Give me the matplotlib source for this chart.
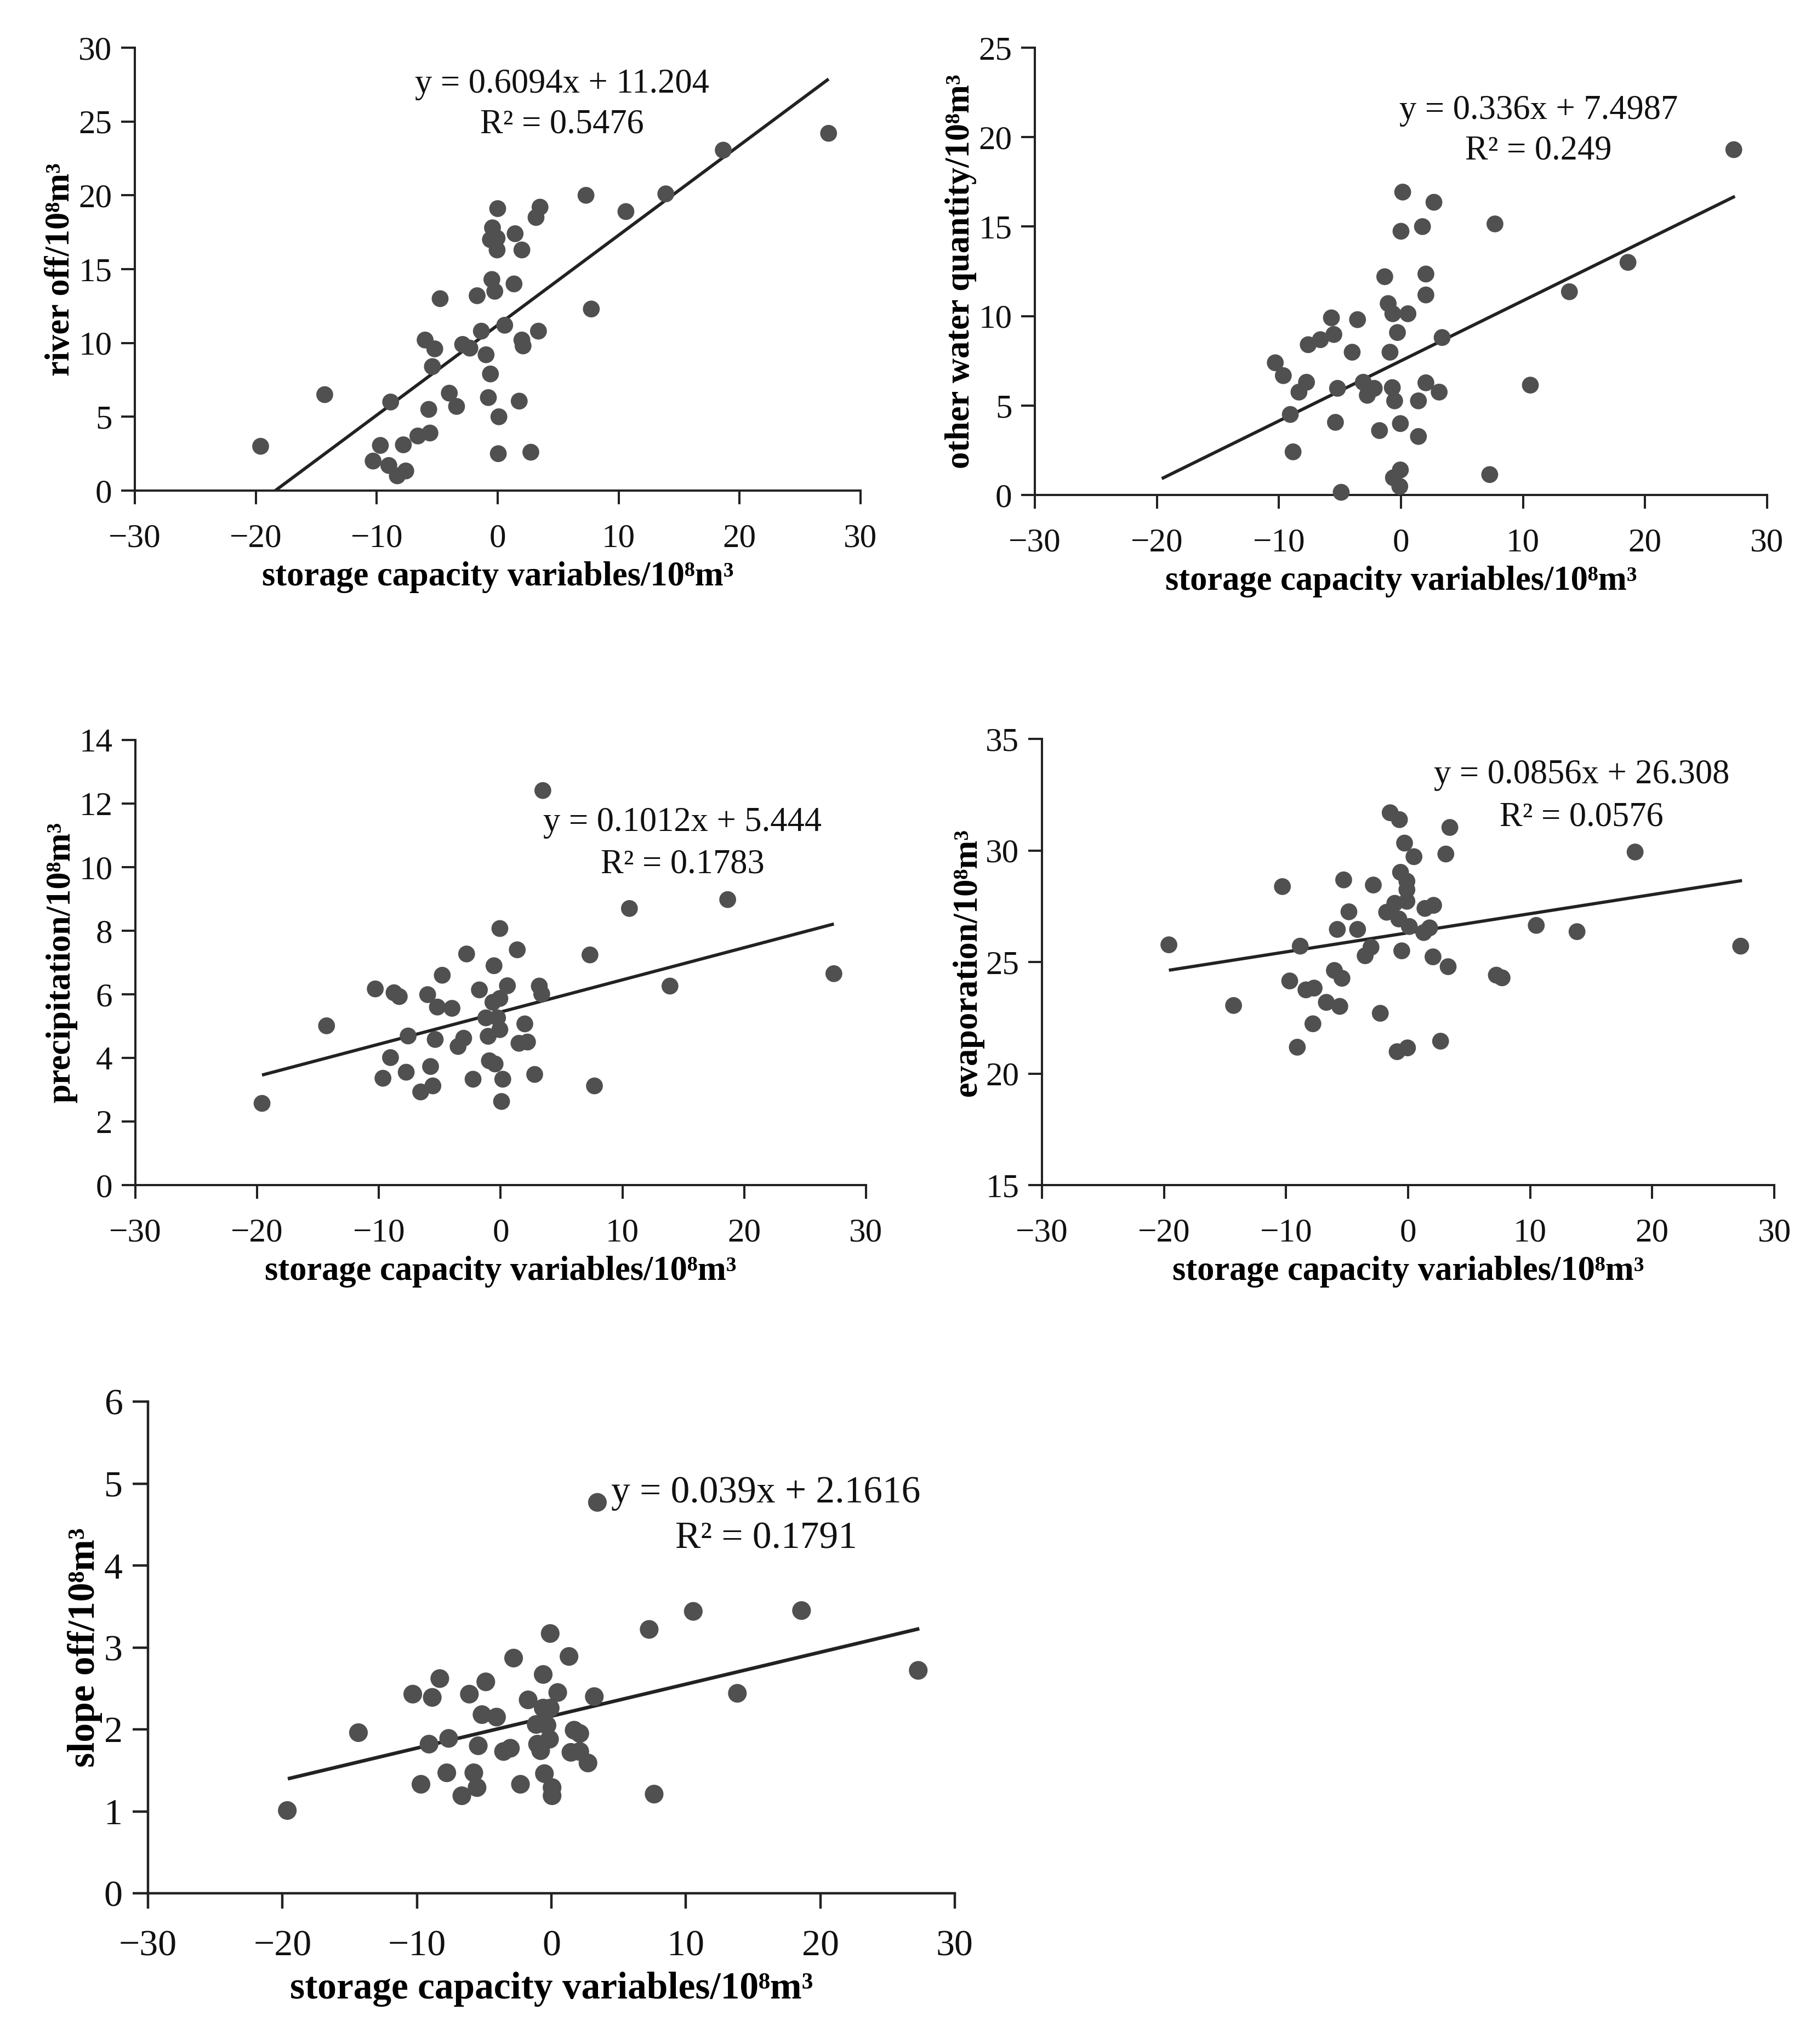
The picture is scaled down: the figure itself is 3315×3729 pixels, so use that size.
import numpy as np
import matplotlib
matplotlib.use("Agg")
import matplotlib.pyplot as plt

plt.rcParams['font.family'] = ['Liberation Serif', 'DejaVu Serif']

W, H = 3316, 3729
DOT = '#505050'
INK = '#222222'

X_LABEL = "storage capacity variables/10\u2078m\u00b3"
x_ticks = [-30, -20, -10, 0, 10, 20, 30]

# --- river off ---
river_x = [-19.6, -14.3, -10.3, -9.7, -8.85, -9.0, -8.3, -7.6, -7.8, -6.6, -5.6, -5.7,
           -6.0, -5.2, -5.4, -4.76, -4.0, -3.4, -2.9, -2.3, -1.7, -1.35, -0.96, -0.6,
           -0.77, -0.48, -0.24, -0.43, -0.6, -0.05, -0.05, 0.0, 0.1, 0.05, 0.58, 1.44,
           1.35, 1.78, 2.0, 2.0, 2.1, 2.74, 3.17, 3.5, 3.37, 7.3, 7.74, 10.6, 13.9,
           18.65, 27.36]
river_y = [3.0, 6.5, 2.0, 3.06, 6.0, 1.7, 1.0, 1.33, 3.1, 3.7, 3.9, 5.5,
           10.2, 9.6, 8.4, 13.0, 6.6, 5.7, 9.9, 9.65, 13.2, 10.8, 9.2, 7.9,
           6.3, 14.3, 13.5, 17.8, 17.0, 17.1, 16.3, 19.1, 5.0, 2.5, 11.2, 17.4,
           14.0, 6.06, 16.3, 10.2, 9.8, 2.6, 18.5, 19.2, 10.8, 20.0, 12.3, 18.9, 20.1,
           23.06, 24.2]
river_yticks = [0, 5, 10, 15, 20, 25, 30]

# --- other water quantity ---
other_x = [27.27, 18.6, 13.8, 10.6, 7.7, 7.27, 0.14, 2.7, 1.76, 0.0, 2.04, 2.04, -1.33,
           -1.05, -0.67, 0.57, -0.29, 3.37, -0.9, -3.56, -5.7, -5.5, -6.6, -7.6, -4.0,
           -10.3, -9.64, -7.74, -8.36, -5.2, -9.07, -5.37, -8.84, -4.9, -3.09, -2.66,
           -2.19, -2.76, -0.71, -0.52, -1.76, -0.05, 1.43, 2.04, 3.13, 1.43, -0.05,
           -0.62, -0.1]
other_y = [19.3, 13.0, 11.36, 6.14, 15.15, 1.14, 16.93, 16.36, 15.0, 14.74, 12.35, 11.18,
           12.2, 10.7, 10.13, 10.13, 9.08, 8.8, 7.98, 9.8, 9.9, 8.97, 8.68, 8.4, 7.98,
           7.39, 6.67, 6.3, 5.75, 5.96, 4.5, 4.06, 2.41, 0.15, 6.3, 5.9,
           5.96, 5.57, 6.0, 5.26, 3.6, 3.99, 5.26, 6.27, 5.75, 3.27, 1.4,
           0.96, 0.48]
other_yticks = [0, 5, 10, 15, 20, 25]

# --- precipitation ---
precip_x = [-19.6, -14.3, -10.3, -8.76, -8.33, -9.05, -9.67, -7.6, -7.76, -6.57, -5.57,
            -5.76, -6.0, -5.2, -5.38, -4.8, -4.0, -2.8, -3.04, -3.5, -2.27, -1.75, -1.22,
            -1.03, -0.93, -0.46, -0.55, -0.64, -0.07, -0.07, -0.26, -0.07, 0.17, 0.07,
            0.55, 1.36, 1.98, 1.5, 2.2, 2.79, 3.17, 3.37, 3.46, 7.33, 7.7, 10.57, 13.9,
            18.64, 27.36]
precip_y = [2.57, 5.01, 6.17, 6.05, 5.93, 4.01, 3.36, 4.69, 3.55, 2.93, 3.12,
            3.73, 5.99, 5.6, 4.58, 6.6, 5.56, 7.27, 4.62, 4.36, 3.33, 6.14, 5.26,
            4.68, 3.91, 3.81, 6.9, 5.75, 5.87, 8.07, 5.26, 4.89, 3.33, 2.63,
            6.27, 7.40, 5.07, 4.46, 4.5, 3.48, 6.26, 6.01, 12.41, 7.24, 3.12, 8.70, 6.26,
            8.98, 6.65]
precip_yticks = [0, 2, 4, 6, 8, 10, 12, 14]

# --- evaporation ---
evap_x = [-19.6, -14.3, -10.3, -9.7, -8.84, -9.08, -8.37, -7.7, -7.8, -6.7, -6.04, -5.6,
          -5.42, -5.8, -5.28, -4.85, -4.14, -3.52, -3.04, -2.85, -2.28, -1.76, -1.47,
          -0.71, -1.09, -0.76, -0.52, -0.62, -0.29, -0.1, -0.1, -0.1, 0.1, 0.48, -0.9,
          -0.05, 1.28, 1.38, 1.76, 2.09, 2.04, 2.66, 3.09, 3.42, 3.28, 7.23, 7.7, 10.5,
          13.84, 18.6, 27.25]
evap_y = [25.77, 23.05, 28.38, 24.15, 25.71, 21.18, 23.75, 23.83, 22.23, 23.19, 24.62, 23.01,
          24.27, 26.46, 28.68, 27.25, 26.46, 25.28, 25.66, 28.45, 22.7, 27.23, 31.69,
          31.38, 27.63, 26.93, 25.5, 29.02, 30.33, 28.62, 28.24, 27.72, 26.59, 29.72, 20.98,
          21.15, 26.32, 27.4, 26.53, 27.54, 25.23, 21.45, 29.84, 31.03, 24.79, 24.41, 24.29,
          26.64, 26.36, 29.93, 25.71]
evap_yticks = [15, 20, 25, 30, 35]

# --- slope off ---
slope_x = [-19.64, -14.35, -10.31, -8.86, -8.3, -9.1, -9.7, -7.64, -7.78, -6.66, -5.53,
           -5.77, -5.44, -6.1, -5.16, -4.88, -4.08, -3.56, -3.05, -2.81, -2.3, -1.73,
           -1.13, -1.03, -0.8, -0.61, -0.61, -0.52, -0.33, -0.09, -0.09, -0.14, 0.05,
           0.05, 0.47, 1.31, 1.69, 1.45, 2.11, 2.11, 2.72, 3.19, 3.42, 7.27, 7.64, 10.55,
           13.83, 18.6, 27.28]
slope_y = [1.01, 1.96, 2.43, 2.39, 2.62, 1.82, 1.33, 1.89, 1.47, 1.19, 1.29,
           1.47, 1.80, 2.43, 2.18, 2.58, 2.15, 1.73, 1.77, 2.87, 1.33, 2.36,
           2.06, 1.82, 1.74, 2.67, 2.26, 1.46, 2.05, 2.26, 3.17, 1.88, 1.29,
           1.19, 2.45, 2.89, 1.99, 1.72, 1.95, 1.73, 1.59, 2.40, 4.77, 3.22, 1.21, 3.44,
           2.44, 3.45, 2.72]
slope_yticks = [0, 1, 2, 3, 4, 5, 6]

# the trend lines all span the full storage-capacity range
# (some points of the other panels fall below their y axis and are hidden)
trend_span = np.array([min(river_x), max(river_x)])

fig = plt.figure(figsize=(W / 100, H / 100), dpi=100)


def panel(box, xs, ys, yticks, ylabel, k, b, r2, tx, ty1, ty2, sc=1.0):
    left, top, right, bottom = box
    ax = fig.add_axes([left / W, 1 - bottom / H, (right - left) / W, (bottom - top) / H])
    ax.scatter(xs, ys, s=490 * sc * sc, color=DOT, edgecolors='none', zorder=3, clip_on=False)
    ax.plot(trend_span, k * trend_span + b, color=INK, lw=4.2 * sc, zorder=2,
            solid_capstyle='butt')
    ax.set_xlim(-30, 30)
    ax.set_ylim(yticks[0], yticks[-1])
    ax.set_xticks(x_ticks)
    ax.set_yticks(yticks)
    for side in ('top', 'right'):
        ax.spines[side].set_visible(False)
    for side in ('left', 'bottom'):
        ax.spines[side].set_linewidth(2.9 * sc)
        ax.spines[side].set_color(INK)
    ax.tick_params(direction='out', length=18 * sc, width=2.9 * sc, color=INK,
                   labelsize=44 * sc, labelcolor='#111111')
    ax.tick_params(axis='x', pad=25 * sc)
    ax.tick_params(axis='y', pad=12 * sc)
    ax.set_xlabel(X_LABEL, fontsize=45 * sc, fontweight='bold', labelpad=10 * sc)
    ax.set_ylabel(ylabel, fontsize=45 * sc, fontweight='bold', labelpad=2 * sc)
    sign = '+' if b >= 0 else '\u2212'
    ax.text(tx, ty1, f"y = {k}x {sign} {abs(b)}", transform=ax.transAxes,
            ha='center', va='center', fontsize=45 * sc, color='#111111')
    ax.text(tx, ty2, f"R\u00b2 = {r2}", transform=ax.transAxes,
            ha='center', va='center', fontsize=45 * sc, color='#111111')
    return ax


panel((246, 87, 1570, 895), river_x, river_y, river_yticks, "river off/10\u2078m\u00b3",
      0.6094, 11.204, 0.5476, 0.589, 0.917, 0.826)
panel((1888, 87, 3224, 903), other_x, other_y, other_yticks,
      "other water quantity/10\u2078m\u00b3",
      0.336, 7.4987, 0.249, 0.688, 0.859, 0.769)
panel((247, 1350, 1580, 2162), precip_x, precip_y, precip_yticks, "precipitation/10\u2078m\u00b3",
      0.1012, 5.444, 0.1783, 0.749, 0.814, 0.720)
panel((1901, 1348, 3237, 2162), evap_x, evap_y, evap_yticks, "evaporation/10\u2078m\u00b3",
      0.0856, 26.308, 0.0576, 0.737, 0.919, 0.824)
panel((270, 2557, 1742, 3454), slope_x, slope_y, slope_yticks, "slope off/10\u2078m\u00b3",
      0.039, 2.1616, 0.1791, 0.766, 0.813, 0.720, sc=1.11)

fig.savefig("out.png", dpi=100, facecolor='white')
